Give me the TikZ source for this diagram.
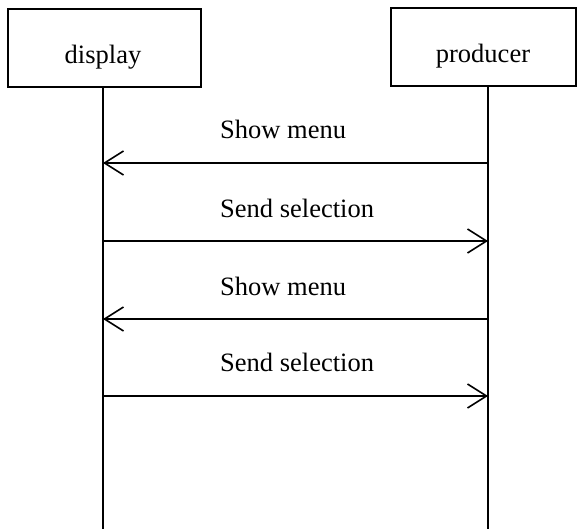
\documentclass[tikz,border=0pt]{standalone}
\usepackage{fontspec}
\setmainfont{Liberation Serif}
\usetikzlibrary{arrows.meta}
\begin{document}
\begin{tikzpicture}[x=1pt,y=-1pt,
  obj/.style={draw, line width=1.5pt, inner sep=0pt},
  life/.style={line width=1.6pt},
  msg/.style={line width=1.6pt, -{Straight Barb[length=19pt,width=24pt]}},
  lbl/.style={anchor=base west, inner sep=0pt, font=\fontsize{26.5}{31}\selectfont},
  objtxt/.style={anchor=base, inner sep=0pt, font=\fontsize{26.5}{31}\selectfont}]
\useasboundingbox (0,0) rectangle (577,529);
% object boxes
\node[obj, minimum width=193pt, minimum height=78pt] (dispbox) at (104.5,48) {};
\node[obj, minimum width=185pt, minimum height=78pt] (prodbox) at (483.5,47) {};
\node[objtxt] (disptxt) at (103,64) {display};
\node[objtxt] (prodtxt) at (483,63) {producer};
% lifelines
\coordinate (dtop) at (103,87);
\coordinate (dbot) at (103,529);
\coordinate (ptop) at (488,86);
\coordinate (pbot) at (488,529);
\draw[life] (dtop) -- (dbot);
\draw[life] (ptop) -- (pbot);
% message anchor points
\coordinate (d1) at (103,163); \coordinate (p1) at (488,163);
\coordinate (d2) at (103,241); \coordinate (p2) at (488,241);
\coordinate (d3) at (103,319); \coordinate (p3) at (488,319);
\coordinate (d4) at (103,396); \coordinate (p4) at (488,396);
\draw[msg] (p1) -- (d1);
\draw[msg] (d2) -- (p2);
\draw[msg] (p3) -- (d3);
\draw[msg] (d4) -- (p4);
% labels
\node[lbl] (l1) at (220,139) {Show menu};
\node[lbl] (l2) at (220,217) {Send selection};
\node[lbl] (l3) at (220,295) {Show menu};
\node[lbl] (l4) at (220,371) {Send selection};
\end{tikzpicture}
\end{document}
